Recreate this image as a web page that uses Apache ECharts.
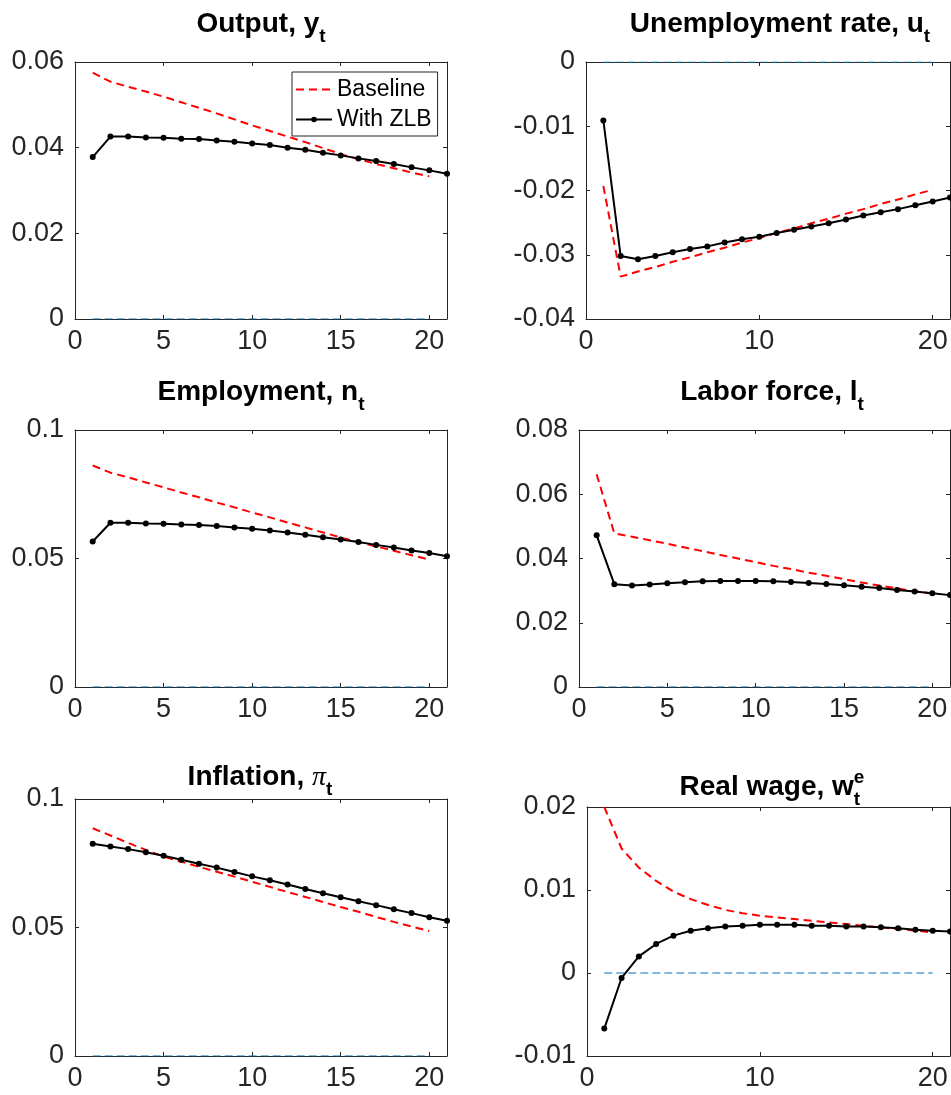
<!DOCTYPE html>
<html>
<head>
<meta charset="utf-8">
<script src="https://cdn.jsdelivr.net/npm/echarts@6/dist/echarts.min.js"></script>
<style>
  html, body { margin: 0; padding: 0; background: #ffffff; }
  #chart { width: 951px; height: 1095px; }
</style>
</head>
<body>
<div id="chart"></div>
<script>
// Horizon (quarters after the shock)
const periods = [1, 2, 3, 4, 5, 6, 7, 8, 9, 10, 11, 12, 13, 14, 15, 16, 17, 18, 19, 20, 21];
const zeroLine = [0, 0, 0, 0, 0, 0, 0, 0, 0, 0, 0, 0, 0, 0, 0, 0, 0, 0, 0, 0];

// Output, y_t
const outputBaseline = [0.0575, 0.0554, 0.0542, 0.0531, 0.0519, 0.0506, 0.0493, 0.0480, 0.0466, 0.0452,
                        0.0439, 0.0426, 0.0413, 0.0399, 0.0385, 0.0373, 0.0362, 0.0352, 0.0342, 0.0333];
const outputZLB = [0.0378, 0.0426, 0.0426, 0.0424, 0.0423, 0.0421, 0.0420, 0.0417, 0.0414, 0.0410, 0.0406,
                   0.0400, 0.0395, 0.0388, 0.0382, 0.0375, 0.0369, 0.0362, 0.0354, 0.0347, 0.0339];

// Unemployment rate, u_t
const unempBaseline = [-0.0193, -0.0334, -0.0326, -0.0319, -0.0311, -0.0304, -0.0296, -0.0289, -0.0281, -0.0274,
                       -0.0266, -0.0259, -0.0251, -0.0244, -0.0236, -0.0229, -0.0221, -0.0214, -0.0206, -0.0199];
const unempZLB = [-0.0091, -0.0302, -0.0307, -0.0302, -0.0296, -0.0291, -0.0287, -0.0281, -0.0276, -0.0272, -0.0266,
                  -0.0261, -0.0256, -0.0251, -0.0245, -0.0239, -0.0234, -0.0229, -0.0223, -0.0217, -0.0211];

// Employment, n_t
const emplBaseline = [0.0862, 0.0834, 0.0816, 0.0796, 0.0777, 0.0757, 0.0738, 0.0718, 0.0699, 0.0679,
                      0.0660, 0.0640, 0.0621, 0.0601, 0.0582, 0.0564, 0.0547, 0.0530, 0.0513, 0.0496];
const emplZLB = [0.0566, 0.0639, 0.0639, 0.0636, 0.0635, 0.0632, 0.0630, 0.0626, 0.0621, 0.0616, 0.0609,
                 0.0601, 0.0592, 0.0583, 0.0574, 0.0564, 0.0553, 0.0543, 0.0531, 0.0521, 0.0509];

// Labor force, l_t
const laborBaseline = [0.0662, 0.0478, 0.0468, 0.0457, 0.0446, 0.0434, 0.0423, 0.0411, 0.0400, 0.0389,
                       0.0377, 0.0367, 0.0356, 0.0346, 0.0336, 0.0325, 0.0316, 0.0307, 0.0298, 0.0291];
const laborZLB = [0.0472, 0.0320, 0.0316, 0.0319, 0.0323, 0.0326, 0.0329, 0.0330, 0.0330, 0.0330, 0.0329,
                  0.0327, 0.0324, 0.0321, 0.0317, 0.0312, 0.0308, 0.0302, 0.0297, 0.0292, 0.0286];

// Inflation, pi_t
const inflBaseline = [0.0886, 0.0858, 0.0829, 0.0802, 0.0776, 0.0756, 0.0736, 0.0717, 0.0698, 0.0678,
                      0.0658, 0.0638, 0.0619, 0.0599, 0.0580, 0.0561, 0.0541, 0.0522, 0.0504, 0.0486];
const inflZLB = [0.0826, 0.0815, 0.0805, 0.0793, 0.0779, 0.0764, 0.0748, 0.0733, 0.0716, 0.0699, 0.0684,
                 0.0667, 0.0650, 0.0633, 0.0618, 0.0602, 0.0587, 0.0571, 0.0556, 0.0540, 0.0526];

// Real wage, w^e_t
const wageBaseline = [0.0200, 0.0150, 0.0127, 0.0111, 0.0098, 0.0089, 0.0082, 0.0076, 0.0072, 0.0069,
                      0.0067, 0.0065, 0.0063, 0.0061, 0.0059, 0.0057, 0.0055, 0.0053, 0.0051, 0.0049];
const wageZLB = [-0.0067, -0.0006, 0.0020, 0.0035, 0.0045, 0.0051, 0.0054, 0.0056, 0.0057, 0.0058, 0.0058,
                 0.0058, 0.0057, 0.0057, 0.0056, 0.0056, 0.0055, 0.0054, 0.0052, 0.0051, 0.0050];

// Axis tick settings per panel
const yTicks = {
  output: { min: 0, max: 0.06, step: 0.02 },
  unemp:  { min: -0.04, max: 0, step: 0.01 },
  empl:   { min: 0, max: 0.1, step: 0.05 },
  labor:  { min: 0, max: 0.08, step: 0.02 },
  infl:   { min: 0, max: 0.1, step: 0.05 },
  wage:   { min: -0.01, max: 0.02, step: 0.01 }
};
const xTickSteps = { output: 5, unemp: 10, empl: 5, labor: 5, infl: 5, wage: 10 };

const AXIS_COLOR = '#262626';
const FONT = '"Liberation Sans", Arial, Helvetica, sans-serif';
const TITLE_FONT = 'bold 28px ' + FONT;
const SUB_FONT = 'bold 19px ' + FONT;

const panels = [
  { key: 'output', grid: { left: 75, top: 62, width: 372, height: 257 },
    baseline: outputBaseline, zlb: outputZLB,
    title: { cx: 261, base: 34, parts: [{ text: 'Output, y' }, { text: 't', sub: true }] } },
  { key: 'unemp', grid: { left: 586, top: 62, width: 364, height: 257 },
    baseline: unempBaseline, zlb: unempZLB,
    title: { cx: 780, base: 34, parts: [{ text: 'Unemployment rate, u' }, { text: 't', sub: true }] } },
  { key: 'empl', grid: { left: 75, top: 430, width: 372, height: 257 },
    baseline: emplBaseline, zlb: emplZLB,
    title: { cx: 261, base: 402, parts: [{ text: 'Employment, n' }, { text: 't', sub: true }] } },
  { key: 'labor', grid: { left: 579, top: 430, width: 371, height: 257 },
    baseline: laborBaseline, zlb: laborZLB,
    title: { cx: 772, base: 402, parts: [{ text: 'Labor force, l' }, { text: 't', sub: true }] } },
  { key: 'infl', grid: { left: 75, top: 799, width: 372, height: 257 },
    baseline: inflBaseline, zlb: inflZLB,
    title: { cx: 260, base: 787, parts: [{ text: 'Inflation, ' },
      { text: '\u03c0', font: 'italic 28px "Liberation Serif", "DejaVu Serif", serif' },
      { text: 't', sub: true }] } },
  { key: 'wage', grid: { left: 587, top: 807, width: 363, height: 249 },
    baseline: wageBaseline, zlb: wageZLB,
    title: { cx: 772, base: 797, parts: [{ text: 'Real wage, w' }, { text: 'e', sup: true },
      { text: 't', sub: true, stack: true }] } }
];

const pairs = (vals) => vals.map((v, i) => [periods[i], v]);

// --- titles with sub/superscripts, laid out from measured text widths ---
const measureCtx = document.createElement('canvas').getContext('2d');
function textWidth(str, font) {
  measureCtx.font = font;
  return measureCtx.measureText(str).width;
}
function titleElements(t) {
  const items = [];
  let x = 0, prevX = 0;
  t.parts.forEach((p) => {
    const font = p.font || ((p.sub || p.sup) ? SUB_FONT : TITLE_FONT);
    const size = parseFloat(font.match(/(\d+(\.\d+)?)px/)[1]);
    const w = textWidth(p.text, font);
    const px = p.stack ? prevX : x;
    const shift = p.sub ? 9 : (p.sup ? -13 : 0);
    items.push({ text: p.text, font, size, x: px, shift });
    if (p.stack) { x = Math.max(x, prevX + w); } else { prevX = px; x = px + w; }
  });
  const left = t.cx - x / 2;
  return items.map((it) => ({
    type: 'text',
    x: left + it.x,
    y: t.base + it.shift - 0.3465 * it.size,
    silent: true,
    style: { text: it.text, font: it.font, fill: '#000000', align: 'left', verticalAlign: 'middle' }
  }));
}

const grids = [], xAxes = [], yAxes = [], series = [], graphics = [];

panels.forEach((p, i) => {
  grids.push(Object.assign({ containLabel: false, outerBoundsMode: 'none' }, p.grid));
  const xs = xTickSteps[p.key];
  const ys = yTicks[p.key];
  const line = { show: true, onZero: false, lineStyle: { color: AXIS_COLOR, width: 1 } };
  const tick = { show: true, inside: true, length: 4, lineStyle: { color: AXIS_COLOR, width: 1 } };
  const xBase = { type: 'value', gridIndex: i, min: 0, max: 21, interval: xs,
                  axisLine: line, axisTick: tick, splitLine: { show: false } };
  xAxes.push(Object.assign({}, xBase, { position: 'bottom',
    axisLabel: { show: true, fontSize: 27, fontFamily: FONT, color: AXIS_COLOR, margin: 9,
                 showMinLabel: true, showMaxLabel: false,
                 formatter: (v) => (Math.abs(v % xs) < 1e-9 ? String(v) : '') } }));
  xAxes.push(Object.assign({}, xBase, { position: 'top', axisLabel: { show: false } }));
  const yBase = { type: 'value', gridIndex: i, min: ys.min, max: ys.max, interval: ys.step,
                  axisLine: line, axisTick: tick, splitLine: { show: false } };
  yAxes.push(Object.assign({}, yBase, { position: 'left',
    axisLabel: { show: true, fontSize: 27, fontFamily: FONT, color: AXIS_COLOR, margin: 11,
                 showMinLabel: true, showMaxLabel: true } }));
  yAxes.push(Object.assign({}, yBase, { position: 'right', axisLabel: { show: false } }));

  const xi = 2 * i, yi = 2 * i;
  series.push({
    name: 'zero', type: 'line', xAxisIndex: xi, yAxisIndex: yi, data: pairs(zeroLine),
    symbol: 'none', silent: true, z: 1,
    lineStyle: { color: '#0072BD', width: 1, type: [8, 4] }, itemStyle: { color: '#0072BD' }
  });
  series.push({
    name: 'Baseline', type: 'line', xAxisIndex: xi, yAxisIndex: yi, data: pairs(p.baseline),
    symbol: 'none', z: 2,
    lineStyle: { color: '#ff0000', width: 2, type: [8, 5] }, itemStyle: { color: '#ff0000' }
  });
  series.push({
    name: 'With ZLB', type: 'line', xAxisIndex: xi, yAxisIndex: yi, data: pairs(p.zlb),
    symbol: 'circle', symbolSize: 6, z: 3,
    lineStyle: { color: '#000000', width: 2 }, itemStyle: { color: '#000000' }
  });

  titleElements(p.title).forEach((g) => graphics.push(g));
});

const chart = echarts.init(document.getElementById('chart'), null, { renderer: 'canvas' });
chart.setOption({
  animation: false,
  backgroundColor: '#ffffff',
  grid: grids,
  xAxis: xAxes,
  yAxis: yAxes,
  series: series,
  legend: {
    data: [
      { name: 'Baseline', itemStyle: { opacity: 0, borderWidth: 0 } },
      { name: 'With ZLB' }
    ],
    orient: 'vertical',
    left: 292, top: 72,
    itemWidth: 36, itemHeight: 7, itemGap: 7,
    padding: [6, 6, 5, 3],
    backgroundColor: '#ffffff',
    borderColor: AXIS_COLOR, borderWidth: 1, borderRadius: 0,
    textStyle: { fontSize: 23, fontFamily: FONT, color: '#000000', lineHeight: 23 },
    selectedMode: false
  },
  graphic: graphics
});
</script>
</body>
</html>
